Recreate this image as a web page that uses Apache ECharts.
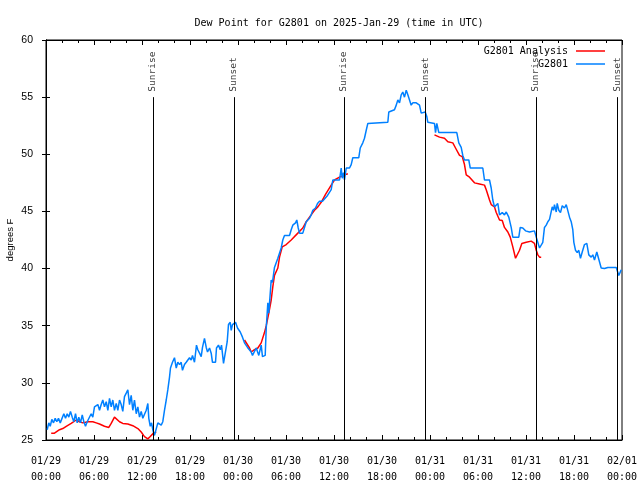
<!DOCTYPE html>
<html>
<head>
<meta charset="utf-8">
<script src="https://cdn.jsdelivr.net/npm/echarts@6/dist/echarts.min.js"></script>
<style>html,body{margin:0;padding:0;background:#fff;}#c{width:640px;height:480px;}</style>
</head>
<body>
<div id="c"></div>
<script>
// time is hours after 2025-01-29 00:00 UTC
const tickDates = ['01/29','01/29','01/29','01/29','01/30','01/30','01/30','01/30','01/31','01/31','01/31','01/31','02/01'];
const tickTimes = ['00:00','06:00','12:00','18:00','00:00','06:00','12:00','18:00','00:00','06:00','12:00','18:00','00:00'];

const sunHours = [13.35, 23.48, 37.23, 47.4, 61.23, 71.4];
const sunNames = ['Sunrise','Sunset','Sunrise','Sunset','Sunrise','Sunset'];

const blueT = [0.15,0.35,0.53,0.73,0.94,1.15,1.35,1.56,1.78,1.98,2.23,2.44,2.65,2.85,3.06,3.28,3.48,3.69,3.9,4.1,4.31,4.53,4.73,4.94,5.15,5.35,5.65,5.85,6.06,6.28,6.48,6.69,6.9,7.1,7.31,7.53,7.73,7.94,8.15,8.35,8.56,8.78,8.98,9.19,9.4,9.6,9.81,10.03,10.23,10.44,10.65,10.85,11.06,11.28,11.48,11.69,11.9,12.1,12.31,12.53,12.73,12.85,13.03,13.19,13.35,13.56,13.78,13.98,14.19,14.4,14.6,14.81,15.03,15.23,15.44,15.56,15.81,16.06,16.28,16.48,16.69,16.9,17.06,17.31,17.53,17.73,17.94,18.15,18.31,18.56,18.81,18.98,19.19,19.4,19.56,19.81,20.03,20.19,20.44,20.65,20.81,21.19,21.31,21.56,21.78,21.94,22.19,22.44,22.65,22.81,23.03,23.15,23.31,23.48,23.69,23.94,24.28,24.56,24.81,25.19,25.65,25.81,26.28,26.6,26.9,27.06,27.4,27.53,27.73,27.85,28.15,28.31,28.56,28.78,28.98,29.19,29.4,29.6,29.81,30.44,30.65,30.85,31.19,31.35,31.53,31.69,32.1,32.31,32.53,32.94,33.15,33.35,33.69,33.94,34.19,34.56,34.81,35.19,35.44,35.65,35.85,36.69,36.9,37.03,37.19,37.31,37.53,37.94,38.15,38.35,39.1,39.28,39.6,39.81,40.03,40.23,40.35,42.73,42.85,43.56,43.78,43.98,44.19,44.4,44.6,44.81,45.03,45.23,45.44,45.65,45.85,46.28,46.69,46.9,47.1,47.4,47.6,47.73,48.56,48.69,48.85,49.1,51.35,51.6,51.9,52.1,52.31,52.85,53.03,54.6,54.81,55.44,55.65,55.85,56.06,56.28,56.48,56.69,57.03,57.31,57.53,57.73,57.85,58.15,58.35,59.1,59.28,59.6,59.94,60.44,61.06,61.28,61.48,61.69,61.9,62.1,62.31,62.53,62.73,62.94,63.15,63.28,63.44,63.56,63.78,63.9,64.1,64.31,64.53,64.81,65.03,65.23,65.44,65.65,65.85,65.98,66.19,66.4,66.6,66.81,67.03,67.31,67.6,67.85,68.15,68.35,68.56,68.85,69.1,69.4,69.6,69.81,70.23,71.28,71.44,71.6,71.78,71.9];
const blueV = [25.9,26.5,26.2,26.8,26.5,26.9,26.6,26.9,26.5,26.5,27.3,26.9,27.3,27.0,27.5,27.0,26.6,27.3,26.5,27.0,26.5,27.2,26.6,26.2,26.6,26.6,27.3,27.0,27.9,27.9,28.1,27.6,28.1,28.5,27.9,28.35,27.6,28.65,27.9,28.5,27.6,28.2,27.6,28.5,28.1,27.5,28.8,29.1,29.4,28.1,28.9,27.6,28.5,27.3,27.9,27.0,27.5,26.9,27.0,27.6,28.2,26.9,26.2,26.5,25.9,25.4,25.3,26.5,26.6,26.3,26.6,27.6,28.5,29.4,30.5,31.3,31.8,32.2,31.3,31.8,31.6,31.8,31.1,31.6,31.8,32.0,32.2,32.0,32.4,31.8,33.3,32.9,32.6,32.3,33.1,33.9,33.1,32.7,33.05,32.6,31.8,31.8,33.05,33.3,32.9,33.3,31.7,31.7,33.6,35.1,35.3,34.6,35.1,35.2,35.3,34.8,34.45,34.0,33.5,33.1,32.7,32.4,33.05,32.4,33.3,32.3,32.4,34.8,37.0,36.1,39.0,38.8,40.1,40.05,40.9,40.75,41.8,42.5,42.9,42.9,43.4,43.8,44.0,44.25,43.55,43.1,43.1,43.6,44.1,44.4,44.7,45.1,45.3,45.7,45.9,45.9,46.0,46.4,46.3,46.9,47.75,47.75,48.8,47.9,48.4,47.75,48.8,48.8,49.1,49.7,49.7,50.55,51.0,51.4,52.1,52.7,52.8,52.8,53.7,53.9,54.3,54.75,54.5,55.2,55.45,55.0,55.6,55.2,54.75,54.3,54.5,54.5,54.3,53.6,53.6,53.7,53.3,52.8,52.7,51.9,52.7,51.9,51.9,51.0,50.6,49.9,49.5,49.5,48.8,48.8,47.75,47.75,47.05,46.0,45.4,45.4,45.7,44.7,44.9,44.7,44.95,45.1,44.5,43.6,42.75,42.75,43.6,43.55,43.3,43.2,43.3,42.75,42.7,41.8,41.8,42.3,43.6,43.8,44.1,44.3,44.25,45.4,45.1,45.6,44.95,45.7,45.1,44.9,45.5,45.3,45.6,45.6,44.5,44.1,43.4,42.3,41.6,41.4,41.6,40.9,41.45,42.1,42.2,41.2,41.0,41.2,40.75,41.45,41.45,40.05,40.1,40.0,40.1,40.1,40.1,39.4,39.3,39.9];

const redT = [0.65,1.06,1.69,2.1,2.53,3.15,3.78,4.19,4.6,5.23,5.85,6.28,6.69,7.31,7.85,8.15,8.56,8.78,9.19,9.6,10.23,10.85,11.48,11.9,12.31,12.73,13.03,13.44,13.78,
  19.0,
  24.81,25.44,25.65,26.06,26.48,26.9,27.31,27.53,27.85,28.15,28.35,28.56,28.98,29.19,29.53,30.03,30.65,31.48,32.1,32.53,32.94,33.56,33.98,34.4,34.94,35.65,36.06,36.69,37.31,37.73,
  43.0,
  48.56,49.19,49.81,50.23,50.85,51.19,51.69,52.03,52.31,52.53,52.94,53.56,54.19,54.81,55.03,55.44,55.65,56.06,56.28,56.69,57.03,57.31,57.73,58.03,58.35,58.69,58.85,59.19,59.48,60.03,60.65,61.06,61.28,61.48,61.69,61.9];
const redV = [25.6,25.6,25.9,26.0,26.2,26.45,26.75,26.6,26.5,26.6,26.6,26.5,26.4,26.2,26.1,26.45,27.0,27.0,26.6,26.45,26.4,26.25,26.0,25.7,25.3,25.1,25.3,25.6,25.7,
  null,
  33.75,33.05,32.7,32.9,33.05,33.5,34.4,35.0,36.1,37.25,38.4,39.4,40.05,41.0,41.9,42.1,42.5,43.1,43.55,44.1,44.5,45.1,45.4,45.8,46.5,47.3,47.75,48.0,48.2,48.3,
  null,
  51.7,51.5,51.4,51.1,51.0,50.55,49.9,49.8,49.1,48.2,48.0,47.5,47.4,47.3,46.9,46.0,45.6,45.4,44.9,44.25,44.2,43.6,43.2,42.75,41.9,40.9,40.9,41.6,42.2,42.3,42.4,42.2,41.6,41.2,41.0,41.0];

const MONO = 'DejaVu Sans Mono';
const chart = echarts.init(document.getElementById('c'), null, {renderer: 'canvas'});

const xBase = {
  type: 'value', min: 0, max: 72, interval: 6,
  axisLine: {show: true, lineStyle: {color: '#000', width: 1}},
  axisTick: {show: true, inside: true, length: 5, lineStyle: {color: '#000'}},
  minorTick: {show: true, splitNumber: 3, length: 3, lineStyle: {color: '#000'}},
  splitLine: {show: false}, minorSplitLine: {show: false}
};
const yBase = {
  type: 'value', min: 25, max: 60, interval: 5,
  axisLine: {show: true, lineStyle: {color: '#000', width: 1}},
  axisTick: {show: true, inside: true, length: 4, lineStyle: {color: '#000'}},
  splitLine: {show: false}
};

chart.setOption({
  animation: false,
  backgroundColor: '#fff',
  title: {
    text: 'Dew Point for G2801 on 2025-Jan-29 (time in UTC)',
    left: 334, top: 13, textAlign: 'center',
    textStyle: {fontFamily: MONO, fontSize: 10, fontWeight: 'normal', color: '#000'}
  },
  legend: {
    data: ['G2801 Analysis', 'G2801'],
    orient: 'vertical', right: 30, top: 41, align: 'right',
    icon: 'rect', itemWidth: 29, itemHeight: 1.5, itemGap: 3,
    textStyle: {fontFamily: MONO, fontSize: 10, color: '#000', padding: [0, 3, 0, 0]}
  },
  grid: {left: 46, right: 18, top: 40, bottom: 40, show: true, borderColor: '#000', borderWidth: 1,
         containLabel: false, outerBoundsMode: 'none'},
  xAxis: [
    Object.assign({}, xBase, {
      position: 'bottom',
      axisLabel: {
        show: true, margin: 13, lineHeight: 16, fontFamily: MONO, fontSize: 10, color: '#000',
        formatter: v => { const i = Math.round(v / 6); return tickDates[i] + '\n' + tickTimes[i]; }
      }
    }),
    Object.assign({}, xBase, {position: 'top', axisLabel: {show: false}})
  ],
  yAxis: [
    Object.assign({}, yBase, {
      position: 'left',
      name: 'degrees F', nameLocation: 'middle', nameRotate: 90, nameGap: 31, nameMoveOverlap: false,
      nameTextStyle: {fontFamily: 'Liberation Sans', fontSize: 9.5, color: '#000'},
      axisLabel: {show: true, margin: 13, fontFamily: 'Liberation Sans', fontSize: 10.5, color: '#000'}
    }),
    Object.assign({}, yBase, {position: 'right', axisLabel: {show: false}})
  ],
  series: [
    {
      name: 'sun', type: 'scatter', xAxisIndex: 0, yAxisIndex: 0,
      symbol: 'circle', symbolSize: 1, itemStyle: {color: 'rgba(0,0,0,0)'},
      silent: true, z: 1,
      data: sunHours.map(h => [h, 55]),
      label: {
        show: true, position: 'top', distance: 5, rotate: 90, align: 'left', verticalAlign: 'middle',
        fontFamily: MONO, fontSize: 9.5, color: '#000',
        formatter: p => sunNames[p.dataIndex]
      },
      markLine: {
        silent: true, symbol: ['none', 'none'], animation: false,
        label: {show: false},
        lineStyle: {color: '#000', width: 1, type: 'solid'},
        data: sunHours.map(h => [{coord: [h, 25]}, {coord: [h, 55]}])
      }
    },
    {
      name: 'G2801 Analysis', type: 'line', xAxisIndex: 0, yAxisIndex: 0,
      showSymbol: false, symbol: 'none', connectNulls: false, z: 3,
      lineStyle: {color: '#ff0000', width: 1.5}, itemStyle: {color: '#ff0000'},
      data: redT.map((t, i) => [t, redV[i]])
    },
    {
      name: 'G2801', type: 'line', xAxisIndex: 0, yAxisIndex: 0,
      showSymbol: false, symbol: 'none', z: 4,
      lineStyle: {color: '#0080ff', width: 1.5}, itemStyle: {color: '#0080ff'},
      data: blueT.map((t, i) => [t, blueV[i]])
    }
  ]
});
</script>
</body>
</html>
